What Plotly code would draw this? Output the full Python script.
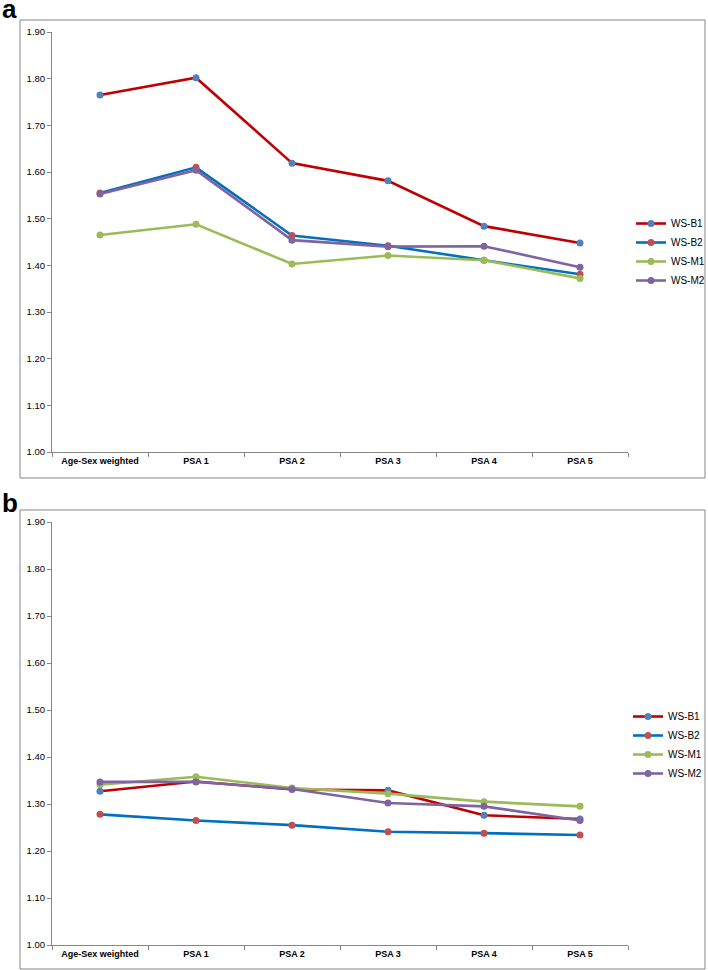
import plotly.graph_objects as go

categories = ["Age-Sex weighted", "PSA 1", "PSA 2", "PSA 3", "PSA 4", "PSA 5"]
series_names = ["WS-B1", "WS-B2", "WS-M1", "WS-M2"]

# Panel a values
a_ws_b1 = [1.765, 1.802, 1.619, 1.581, 1.484, 1.448]
a_ws_b2 = [1.555, 1.610, 1.464, 1.442, 1.411, 1.381]
a_ws_m1 = [1.465, 1.488, 1.403, 1.421, 1.411, 1.372]
a_ws_m2 = [1.553, 1.604, 1.454, 1.440, 1.441, 1.396]

# Panel b values
b_ws_b1 = [1.327, 1.348, 1.331, 1.329, 1.276, 1.268]
b_ws_b2 = [1.278, 1.265, 1.255, 1.241, 1.238, 1.234]
b_ws_m1 = [1.341, 1.358, 1.334, 1.322, 1.305, 1.295]
b_ws_m2 = [1.347, 1.347, 1.332, 1.302, 1.295, 1.265]

y_ticks = [1.0, 1.1, 1.2, 1.3, 1.4, 1.5, 1.6, 1.7, 1.8, 1.9]

line_colors = ["#C00000", "#0070C0", "#9BBB59", "#8064A2"]
marker_colors = ["#4F81BD", "#C0504D", "#9BBB59", "#8064A2"]

W, H = 708, 970
FONT = "Liberation Sans, Arial, sans-serif"
AXIS_GREY = "#868686"

fig = go.Figure()

panels = [
    ("x", "y", "legend", [a_ws_b1, a_ws_b2, a_ws_m1, a_ws_m2]),
    ("x2", "y2", "legend2", [b_ws_b1, b_ws_b2, b_ws_m1, b_ws_m2]),
]
for xa, ya, lg, data in panels:
    for name, vals, lc, mc in zip(series_names, data, line_colors, marker_colors):
        fig.add_trace(go.Scatter(
            x=categories, y=vals, name=name, mode="lines+markers",
            xaxis=xa, yaxis=ya, legend=lg,
            line=dict(color=lc, width=2.6),
            marker=dict(color=mc, size=7),
            cliponaxis=False,
        ))

def px_x(p):
    return p / W

def px_y(p):
    return 1 - p / H

xdom = [px_x(52), px_x(628)]
xaxis_common = dict(
    domain=xdom, type="category", range=[-0.5, 5.5],
    showline=True, linecolor=AXIS_GREY, linewidth=1,
    ticks="outside", tickson="boundaries", ticklen=4, tickcolor=AXIS_GREY,
    showgrid=False, zeroline=False, tickangle=0, automargin=False,
    tickfont=dict(family=FONT, size=9, color="#000000", weight="bold"),
    fixedrange=True,
)
yaxis_common = dict(
    range=[1.0, 1.9], tickvals=y_ticks, tickformat=".2f",
    showline=True, linecolor=AXIS_GREY, linewidth=1,
    ticks="outside", ticklen=4, tickcolor=AXIS_GREY,
    showgrid=False, zeroline=False, automargin=False,
    tickfont=dict(family=FONT, size=9.5, color="#000000"),
    fixedrange=True,
)

legend_common = dict(
    font=dict(family=FONT, size=10, color="#000000"),
    bgcolor="rgba(0,0,0,0)", xanchor="left", yanchor="top",
    itemwidth=30, tracegroupgap=0, traceorder="normal",
)

fig.update_layout(
    width=W, height=H,
    margin=dict(l=0, r=0, t=0, b=0, pad=0, autoexpand=False),
    paper_bgcolor="white", plot_bgcolor="white",
    showlegend=True,
    xaxis=dict(xaxis_common, anchor="y"),
    yaxis=dict(yaxis_common, domain=[px_y(452), px_y(32)], anchor="x"),
    xaxis2=dict(xaxis_common, anchor="y2"),
    yaxis2=dict(yaxis_common, domain=[px_y(945), px_y(522)], anchor="x2"),
    legend=dict(legend_common, x=px_x(631), y=px_y(209)),
    legend2=dict(legend_common, x=px_x(628), y=px_y(702)),
    shapes=[
        dict(type="rect", xref="paper", yref="paper",
             x0=px_x(20), x1=px_x(705), y0=px_y(478), y1=px_y(20),
             line=dict(color=AXIS_GREY, width=1), fillcolor="rgba(0,0,0,0)"),
        dict(type="rect", xref="paper", yref="paper",
             x0=px_x(20), x1=px_x(705), y0=px_y(969), y1=px_y(510),
             line=dict(color=AXIS_GREY, width=1), fillcolor="rgba(0,0,0,0)"),
    ],
    annotations=[
        dict(text="<b>a</b>", xref="paper", yref="paper", x=px_x(0), y=px_y(-8),
             xanchor="left", yanchor="top", showarrow=False,
             font=dict(family=FONT, size=26, color="#000000")),
        dict(text="<b>b</b>", xref="paper", yref="paper", x=px_x(0), y=px_y(486),
             xanchor="left", yanchor="top", showarrow=False,
             font=dict(family=FONT, size=26, color="#000000")),
    ],
)

fig.write_html(
    "out.html",
    config={"displayModeBar": False},
    post_script="document.body.style.margin='0';document.body.style.overflow='hidden';",
)
